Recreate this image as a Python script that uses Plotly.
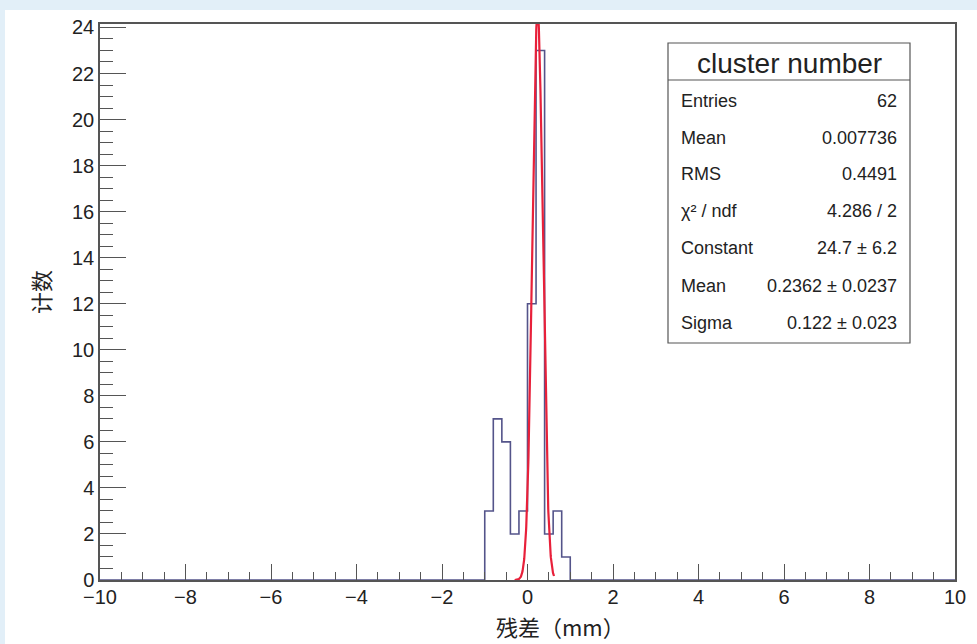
import numpy as np
import plotly.graph_objects as go

# Histogram: 100 bins of width 0.2 on [-10, 10]; only occupied bins listed
x_min, x_max, bin_width = -10.0, 10.0, 0.2
bin_low_edges = [-1.0, -0.8, -0.6, -0.4, -0.2, 0.0, 0.2, 0.4, 0.6, 0.8]
bin_counts = [3, 7, 6, 2, 3, 12, 23, 2, 3, 1]

# Gaussian fit results
fit_constant = 24.7
fit_mean = 0.2362
fit_sigma = 0.122
fit_range = (-0.30, 0.62)

# Stats box rows
stats_title = "cluster number"
stats_labels = ["Entries", "Mean", "RMS", "χ² / ndf", "Constant", "Mean", "Sigma"]
stats_values = ["62", "0.007736", "0.4491", "4.286 / 2", "24.7 ± 6.2",
                "0.2362 ± 0.0237", "0.122 ± 0.023"]

x_ticks = [-10, -8, -6, -4, -2, 0, 2, 4, 6, 8, 10]
y_ticks = [0, 2, 4, 6, 8, 10, 12, 14, 16, 18, 20, 22, 24]
y_max = max(bin_counts) * 1.05

# Build the step outline of the histogram (empty bins drawn at zero)
hx, hy = [x_min], [0]
prev = 0
for lo, c in zip(bin_low_edges, bin_counts):
    hx += [lo, lo]
    hy += [prev, c]
    prev = c
last_hi = bin_low_edges[-1] + bin_width
hx += [last_hi, last_hi, x_max]
hy += [prev, 0, 0]

gx = np.linspace(fit_range[0], fit_range[1], 300)
gy = fit_constant * np.exp(-0.5 * ((gx - fit_mean) / fit_sigma) ** 2)

W, H = 977, 644
L, R, T, B = 100, 955, 24, 580


def px(p):
    return (p - L) / (R - L)


def py(p):
    return (B - p) / (B - T)


fig = go.Figure()
fig.add_trace(go.Scatter(x=hx, y=hy, mode="lines",
                         line=dict(color="#54548a", width=1.6),
                         hoverinfo="skip", showlegend=False))
fig.add_trace(go.Scatter(x=gx, y=gy, mode="lines",
                         line=dict(color="#e8203a", width=2.2),
                         hoverinfo="skip", showlegend=False))

axis_font = dict(family="Liberation Sans, Arial, sans-serif", size=20, color="#222")
fig.update_xaxes(range=[x_min, x_max], tickvals=x_ticks, ticks="inside",
                 ticklen=16, tickwidth=1.2, tickcolor="#555",
                 minor=dict(dtick=0.5, ticks="inside", ticklen=8,
                            tickwidth=1.2, tickcolor="#555", showgrid=False),
                 showline=True, linecolor="#555", linewidth=1.5, mirror=True,
                 showgrid=False, zeroline=False, tickfont=axis_font,
                 ticklabelstandoff=-2)
fig.update_yaxes(range=[0, y_max], tickvals=y_ticks, ticks="inside",
                 ticklen=26, tickwidth=1.2, tickcolor="#555",
                 minor=dict(dtick=0.5, ticks="inside", ticklen=13,
                            tickwidth=1.2, tickcolor="#555", showgrid=False),
                 showline=True, linecolor="#555", linewidth=1.5, mirror=True,
                 showgrid=False, zeroline=False, tickfont=axis_font)

shapes = [
    # white slide area behind the canvas
    dict(type="rect", xref="paper", yref="paper", layer="below",
         x0=px(5), x1=px(977), y0=py(644), y1=py(10),
         fillcolor="white", line=dict(width=0)),
    # stats box
    dict(type="rect", xref="paper", yref="paper",
         x0=px(668), x1=px(910), y0=py(343), y1=py(43),
         fillcolor="white", line=dict(color="#555", width=1.2)),
    dict(type="line", xref="paper", yref="paper",
         x0=px(668), x1=px(910), y0=py(80), y1=py(80),
         line=dict(color="#555", width=1.2)),
]

stat_font = dict(family="Liberation Sans, Arial, sans-serif", size=18, color="#222")
annotations = [
    dict(xref="paper", yref="paper", x=px(789), y=py(63), text=stats_title,
         showarrow=False, xanchor="center", yanchor="middle",
         font=dict(family="Liberation Sans, Arial, sans-serif", size=28, color="#222")),
    dict(xref="paper", yref="paper", x=px(560), y=py(626), text="残差（mm）",
         showarrow=False, xanchor="center", yanchor="middle",
         font=dict(family="Noto Sans CJK SC", size=22, color="#222")),
    dict(xref="paper", yref="paper", x=px(40), y=py(292), text="计数",
         showarrow=False, xanchor="center", yanchor="middle", textangle=-90,
         font=dict(family="Noto Sans CJK SC", size=22, color="#222")),
]
row_y = [101, 138, 174, 211, 248, 286, 323]
for lab, val, yy in zip(stats_labels, stats_values, row_y):
    annotations.append(dict(xref="paper", yref="paper", x=px(679), y=py(yy),
                            text=lab, showarrow=False, xanchor="left",
                            yanchor="middle", font=stat_font))
    annotations.append(dict(xref="paper", yref="paper", x=px(899), y=py(yy),
                            text=val, showarrow=False, xanchor="right",
                            yanchor="middle", font=stat_font))

fig.update_layout(width=W, height=H,
                  margin=dict(l=L, r=W - R, t=T, b=H - B),
                  paper_bgcolor="#e2eff8", plot_bgcolor="white",
                  shapes=shapes, annotations=annotations, showlegend=False)

fig.write_html("out.html")
